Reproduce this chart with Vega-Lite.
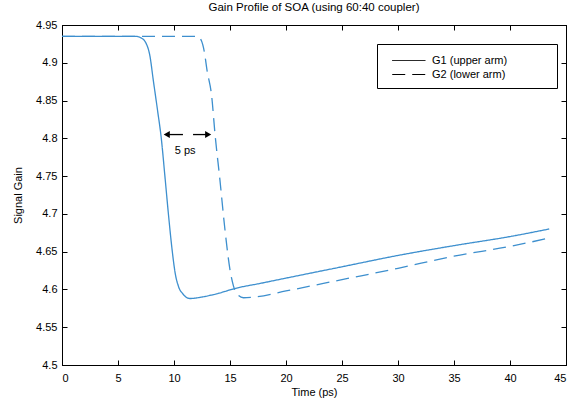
{
  "$schema": "https://vega.github.io/schema/vega-lite/v6.json",
  "width": 504,
  "height": 340,
  "autosize": {"type": "none"},
  "padding": {"left": 62, "top": 25, "right": 11, "bottom": 41},
  "background": "white",
  "config": {
    "font": "Liberation Sans",
    "view": {"stroke": "black", "strokeWidth": 1},
    "axis": {"domainColor": "black", "tickColor": "black", "labelColor": "black", "titleColor": "black", "grid": false, "labelFontSize": 11, "titleFontSize": 11, "titleFontWeight": "normal", "tickSize": -5}
  },
  "title": {"text": "Gain Profile of SOA (using 60:40 coupler)", "fontSize": 11.5, "fontWeight": "normal", "offset": 6, "color": "black"},
  "resolve": {"axis": {"x": "independent", "y": "independent"}},
  "layer": [
    {
      "data": {"values": [
        {"series": "G1 (upper arm)", "time": 0, "gain": 4.935},
        {"series": "G1 (upper arm)", "time": 6.6, "gain": 4.935},
        {"series": "G1 (upper arm)", "time": 7.05, "gain": 4.933},
        {"series": "G1 (upper arm)", "time": 7.5, "gain": 4.926},
        {"series": "G1 (upper arm)", "time": 7.85, "gain": 4.909},
        {"series": "G1 (upper arm)", "time": 8.15, "gain": 4.877},
        {"series": "G1 (upper arm)", "time": 8.55, "gain": 4.835},
        {"series": "G1 (upper arm)", "time": 8.85, "gain": 4.802},
        {"series": "G1 (upper arm)", "time": 9.2, "gain": 4.748},
        {"series": "G1 (upper arm)", "time": 9.5, "gain": 4.7},
        {"series": "G1 (upper arm)", "time": 9.85, "gain": 4.65},
        {"series": "G1 (upper arm)", "time": 10.1, "gain": 4.622},
        {"series": "G1 (upper arm)", "time": 10.4, "gain": 4.604},
        {"series": "G1 (upper arm)", "time": 10.8, "gain": 4.594},
        {"series": "G1 (upper arm)", "time": 11.4, "gain": 4.588},
        {"series": "G1 (upper arm)", "time": 12.5, "gain": 4.59},
        {"series": "G1 (upper arm)", "time": 14, "gain": 4.595},
        {"series": "G1 (upper arm)", "time": 15.5, "gain": 4.6015},
        {"series": "G1 (upper arm)", "time": 17.7, "gain": 4.608},
        {"series": "G1 (upper arm)", "time": 20, "gain": 4.615},
        {"series": "G1 (upper arm)", "time": 25, "gain": 4.63},
        {"series": "G1 (upper arm)", "time": 30, "gain": 4.645},
        {"series": "G1 (upper arm)", "time": 35, "gain": 4.658},
        {"series": "G1 (upper arm)", "time": 40, "gain": 4.67},
        {"series": "G1 (upper arm)", "time": 43.5, "gain": 4.68},
        {"series": "G2 (lower arm)", "time": 0, "gain": 4.935},
        {"series": "G2 (lower arm)", "time": 12.1, "gain": 4.935},
        {"series": "G2 (lower arm)", "time": 12.45, "gain": 4.929},
        {"series": "G2 (lower arm)", "time": 12.7, "gain": 4.915},
        {"series": "G2 (lower arm)", "time": 12.95, "gain": 4.89},
        {"series": "G2 (lower arm)", "time": 13.37, "gain": 4.855},
        {"series": "G2 (lower arm)", "time": 13.66, "gain": 4.806},
        {"series": "G2 (lower arm)", "time": 14.1, "gain": 4.745},
        {"series": "G2 (lower arm)", "time": 14.55, "gain": 4.679},
        {"series": "G2 (lower arm)", "time": 15.0, "gain": 4.626},
        {"series": "G2 (lower arm)", "time": 15.3, "gain": 4.605},
        {"series": "G2 (lower arm)", "time": 15.7, "gain": 4.593},
        {"series": "G2 (lower arm)", "time": 16.2, "gain": 4.589},
        {"series": "G2 (lower arm)", "time": 17.2, "gain": 4.59},
        {"series": "G2 (lower arm)", "time": 20, "gain": 4.598},
        {"series": "G2 (lower arm)", "time": 25, "gain": 4.613},
        {"series": "G2 (lower arm)", "time": 30, "gain": 4.628},
        {"series": "G2 (lower arm)", "time": 35, "gain": 4.644},
        {"series": "G2 (lower arm)", "time": 40, "gain": 4.657},
        {"series": "G2 (lower arm)", "time": 43.5, "gain": 4.668}
      ]},
      "mark": {"type": "line", "color": "#3d8fce", "strokeWidth": 1.3, "interpolate": "monotone", "clip": true},
      "encoding": {
        "x": {"field": "time", "type": "quantitative", "scale": {"domain": [0, 45], "nice": false},
              "axis": {"orient": "bottom", "values": [0,5,10,15,20,25,30,35,40,45], "title": "Time (ps)", "labelPadding": 12, "titlePadding": 3}},
        "y": {"field": "gain", "type": "quantitative", "scale": {"domain": [4.5, 4.95], "nice": false, "zero": false},
              "axis": {"orient": "left", "values": [4.5,4.55,4.6,4.65,4.7,4.75,4.8,4.85,4.9,4.95], "format": "~g", "title": "Signal Gain", "labelPadding": 10, "titlePadding": 12}},
        "strokeDash": {"field": "series", "type": "nominal",
          "scale": {"domain": ["G1 (upper arm)", "G2 (lower arm)"], "range": [[1, 0], [13, 7]]},
          "legend": {"title": null, "orient": "none", "legendX": 315, "legendY": 19, "strokeColor": "black", "fillColor": "white", "padding": 8, "symbolType": "M-0.16,0H4", "symbolStrokeColor": "black", "symbolStrokeWidth": 1, "symbolSize": 256, "labelFontSize": 11, "labelColor": "black", "rowPadding": -3, "labelOffset": 30, "labelLimit": 300,
            "labelExpr": "datum.label + '\u2003\u2003\u2003\u2800'"}}
      }
    },
    {
      "data": {"values": [
        {"x1": 9.4, "x2": 10.8, "y": 4.805},
        {"x1": 11.7, "x2": 13.0, "y": 4.805}
      ]},
      "mark": {"type": "rule", "color": "black", "strokeWidth": 1.3},
      "encoding": {
        "x": {"field": "x1", "type": "quantitative", "axis": {"orient": "top", "values": [0,5,10,15,20,25,30,35,40,45], "labels": false, "title": null}},
        "x2": {"field": "x2"},
        "y": {"field": "y", "type": "quantitative", "axis": {"orient": "right", "values": [4.5,4.55,4.6,4.65,4.7,4.75,4.8,4.85,4.9,4.95], "labels": false, "title": null}}
      }
    },
    {
      "data": {"values": [
        {"x": 9.35, "y": 4.805, "shape": "triangle-left"},
        {"x": 13.05, "y": 4.805, "shape": "triangle-right"}
      ]},
      "mark": {"type": "point", "filled": true, "color": "black", "size": 50, "opacity": 1},
      "encoding": {
        "x": {"field": "x", "type": "quantitative", "axis": null},
        "y": {"field": "y", "type": "quantitative", "axis": null},
        "shape": {"field": "shape", "type": "nominal", "scale": null, "legend": null}
      }
    },
    {
      "data": {"values": [{"x": 11.0, "y": 4.783, "label": "5 ps"}]},
      "mark": {"type": "text", "fontSize": 11, "color": "black"},
      "encoding": {
        "x": {"field": "x", "type": "quantitative", "axis": null},
        "y": {"field": "y", "type": "quantitative", "axis": null},
        "text": {"field": "label"}
      }
    }
  ]
}
